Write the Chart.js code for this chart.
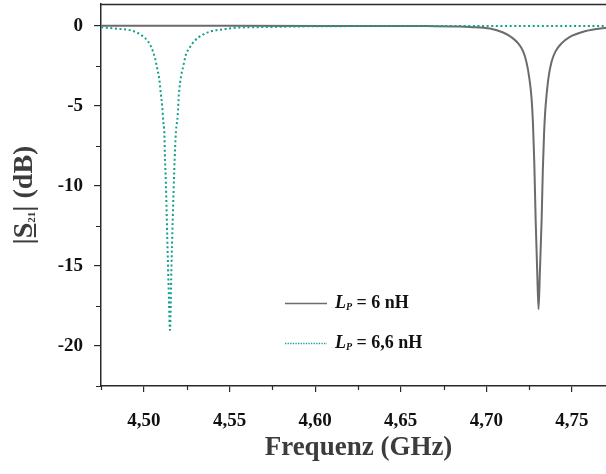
<!DOCTYPE html>
<html>
<head>
<meta charset="utf-8">
<script src="https://cdn.jsdelivr.net/npm/chart.js@4.4.0/dist/chart.umd.min.js"></script>
<style>
  html, body { margin: 0; padding: 0; background: #fff; }
  #wrap { width: 606px; height: 474px; }
</style>
</head>
<body>
<div id="wrap"><canvas id="s21Chart" width="606" height="474"></canvas></div>
<script>
// |S21| over frequency for two values of L_P
const freq6 = [4.475, 4.55, 4.62, 4.6651, 4.6845, 4.6904, 4.7021, 4.7098, 4.7147, 4.7186, 4.7215,
  4.7235, 4.7250, 4.7264, 4.7272, 4.7280, 4.7288, 4.7297, 4.7305, 4.7313, 4.7323, 4.7330, 4.7337,
  4.7343, 4.7352, 4.7365, 4.7381, 4.7404, 4.7439, 4.7488, 4.7566, 4.7644, 4.7692, 4.7765];
const s21_6 = [0, 0, -0.01, -0.02, -0.04, -0.07, -0.17, -0.42, -0.72, -1.1, -1.6,
  -2.3, -3.2, -4.5, -6.0, -8.5, -12.1, -15.3, -17.7, -15.3, -12.1, -9.0, -6.8,
  -5.5, -4.3, -3.1, -2.25, -1.6, -1.1, -0.69, -0.37, -0.2, -0.14, -0.1];

const freq66 = [4.475, 4.486, 4.4928, 4.4987, 4.5025, 4.5045, 4.5064, 4.5078, 4.5089, 4.5098,
  4.5107, 4.5113, 4.5119, 4.5122, 4.5128, 4.5136, 4.5144, 4.5152, 4.5160, 4.5168, 4.5177, 4.5182,
  4.5187, 4.5197, 4.5204, 4.5216, 4.5230, 4.5245, 4.5265, 4.5294, 4.5337, 4.5395, 4.5463, 4.5541,
  4.5717, 4.5911, 4.622, 4.68, 4.7765];
const s21_66 = [-0.1, -0.2, -0.3, -0.6, -1.0, -1.4, -2.0, -2.7, -3.3, -4.2,
  -5.1, -6.0, -6.7, -8.0, -9.8, -13.2, -16.3, -19.0, -15.3, -12.1, -9.0, -7.6,
  -6.6, -5.6, -4.3, -3.2, -2.5, -1.8, -1.4, -0.96, -0.6, -0.33, -0.22, -0.12,
  -0.08, -0.04, -0.02, -0.01, -0.01];

const lpValues = ['6 nH', '6,6 nH'];

const xMajorTicks = [4.50, 4.55, 4.60, 4.65, 4.70, 4.75];
const xMinorTicks = [4.475, 4.525, 4.575, 4.625, 4.675, 4.725];
const yMajorTicks = [-20, -15, -10, -5, 0];
const yMinorTicks = [-22.5, -17.5, -12.5, -7.5, -2.5];

const SERIF = '"Liberation Serif", "Times New Roman", serif';
const GRAY = '#6b6b6b';
const TEAL = '#12a08b';
const AXIS = '#2a2a2a';
const TITLE = '#3c3c3c';

const toPoints = (xs, ys) => xs.map((x, i) => ({ x, y: ys[i] }));

// minor ticks, top frame line, axis titles and legend
const extras = {
  id: 'extras',
  afterDraw(chart) {
    const { ctx, chartArea: a, scales: { x, y } } = chart;
    ctx.save();
    ctx.strokeStyle = AXIS;
    ctx.lineWidth = 1.2;
    ctx.beginPath();
    xMinorTicks.forEach(v => {
      const px = Math.round(x.getPixelForValue(v)) + 0.5;
      ctx.moveTo(px, a.bottom); ctx.lineTo(px, a.bottom + 4);
    });
    yMinorTicks.forEach(v => {
      const py = Math.round(y.getPixelForValue(v)) + 0.5;
      ctx.moveTo(a.left - 5, py); ctx.lineTo(a.left, py);
    });
    ctx.stroke();

    // top frame
    ctx.lineWidth = 1.3;
    ctx.beginPath();
    ctx.moveTo(a.left, a.top + 0.5); ctx.lineTo(a.right, a.top + 0.5);
    ctx.stroke();

    // x title
    ctx.fillStyle = TITLE;
    ctx.font = 'bold 27px ' + SERIF;
    ctx.textAlign = 'center';
    ctx.textBaseline = 'alphabetic';
    ctx.fillText('Frequenz (GHz)', (a.left + a.right) / 2 + 5, 455);
    ctx.textAlign = 'left';

    // y title: |S21| (dB), S underlined, 21 subscript
    ctx.translate(32, (a.top + a.bottom) / 2);
    ctx.rotate(-Math.PI / 2);
    const big = 'bold 28px ' + SERIF;
    const small = 'bold 11px ' + SERIF;
    const parts = [
      { t: '|', f: big, dy: 0 },
      { t: 'S', f: big, dy: 0, under: true },
      { t: '21', f: small, dy: 3 },
      { t: '|', f: big, dy: 0 },
      { t: ' (dB)', f: big, dy: 0 }
    ];
    let total = 0;
    parts.forEach(p => { ctx.font = p.f; p.w = ctx.measureText(p.t).width; total += p.w; });
    let cx = -total / 2;
    parts.forEach(p => {
      ctx.font = p.f;
      ctx.fillText(p.t, cx, p.dy);
      if (p.under) ctx.fillRect(cx + 1, 2, p.w - 2, 2);
      cx += p.w;
    });
    ctx.restore();

    // legend: 6 nH first, 6,6 nH second
    ctx.save();
    const rows = [
      { ds: chart.data.datasets[1], text: lpValues[0], y: 303 },
      { ds: chart.data.datasets[0], text: lpValues[1], y: 343 }
    ];
    rows.forEach(r => {
      ctx.strokeStyle = r.ds.borderColor;
      ctx.lineWidth = 1.5;
      ctx.setLineDash(r.ds.borderDash ? [1.3, 1.3] : []);
      ctx.beginPath();
      ctx.moveTo(285, r.y + 0.5); ctx.lineTo(327, r.y + 0.5);
      ctx.stroke();
      ctx.setLineDash([]);

      let tx = 335;
      const base = r.y + 5;
      ctx.fillStyle = '#111';
      ctx.textBaseline = 'alphabetic';
      ctx.font = 'italic bold 18px ' + SERIF;
      ctx.fillText('L', tx, base);
      tx += ctx.measureText('L').width;
      ctx.font = 'italic bold 10px ' + SERIF;
      ctx.fillText('P', tx, base + 2);
      tx += ctx.measureText('P').width;
      ctx.font = 'bold 18px ' + SERIF;
      ctx.fillText(' = ' + r.text, tx, base);
    });
    ctx.restore();
  }
};

new Chart(document.getElementById('s21Chart'), {
  type: 'line',
  data: {
    datasets: [
      {
        label: 'L_P = ' + lpValues[1],
        data: toPoints(freq66, s21_66),
        borderColor: TEAL,
        borderWidth: 2,
        borderDash: [2, 2.6],
        pointRadius: 0,
        cubicInterpolationMode: 'monotone',
        fill: false,
        order: 0
      },
      {
        label: 'L_P = ' + lpValues[0],
        data: toPoints(freq6, s21_6),
        borderColor: GRAY,
        borderWidth: 2,
        pointRadius: 0,
        cubicInterpolationMode: 'monotone',
        fill: false,
        order: 1
      }
    ]
  },
  options: {
    responsive: false,
    animation: false,
    layout: { padding: { top: 4, left: 0, right: 0, bottom: 0 } },
    plugins: { legend: { display: false }, tooltip: { enabled: false } },
    scales: {
      x: {
        type: 'linear',
        min: 4.4749,
        max: 4.7699,
        afterFit: s => { s.height = 88; s.paddingLeft = 0; s.paddingRight = 0; },
        afterBuildTicks: s => { s.ticks = xMajorTicks.map(v => ({ value: v })); },
        ticks: {
          callback: v => v.toFixed(2).replace('.', ','),
          font: { family: SERIF, size: 19, weight: 'bold' },
          color: '#111',
          padding: 18,
          maxRotation: 0,
          autoSkip: false
        },
        grid: { drawOnChartArea: false, tickLength: 6, color: AXIS, lineWidth: 1.2 },
        border: { color: AXIS, width: 1.5 }
      },
      y: {
        type: 'linear',
        min: -22.5,
        max: 1.36,
        afterFit: s => { s.width = 101; s.paddingTop = 0; s.paddingBottom = 0; },
        afterBuildTicks: s => { s.ticks = yMajorTicks.map(v => ({ value: v })); },
        ticks: {
          callback: v => String(v),
          font: { family: SERIF, size: 19, weight: 'bold' },
          color: '#111',
          padding: 11
        },
        grid: { drawOnChartArea: false, tickLength: 7, color: AXIS, lineWidth: 1.2 },
        border: { color: AXIS, width: 1.5 }
      }
    }
  },
  plugins: [extras]
});
</script>
</body>
</html>
